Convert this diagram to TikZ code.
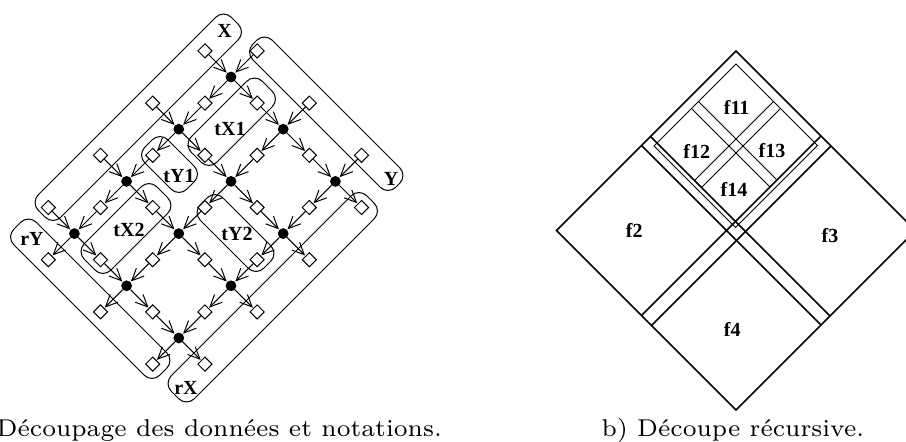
\documentclass[tikz,border=0pt]{standalone}
\usepackage{fontspec}
\newfontfamily\lblfont{Liberation Serif}[Scale=1]
\usetikzlibrary{shapes.geometric,arrows.meta}
\tikzset{
  dia/.style={draw,diamond,fill=white,minimum width=14.5pt,minimum height=14.5pt,inner sep=0pt,line width=1pt,aspect=1},
  dot/.style={circle,fill=black,minimum size=10.8pt,inner sep=0pt},
  conn/.style={line width=1pt,-{Straight Barb[length=12pt,width=11pt,line width=1pt]},shorten >=0.5pt},
  gbox/.style={line width=1pt,rounded corners=11pt},
  lbl/.style={inner sep=0pt,font=\lblfont\bfseries\fontsize{20}{22}\selectfont},
  capt/.style={inner sep=0pt,anchor=base west,scale=3.47,font=\fontsize{7}{9}\selectfont},
  heavy/.style={line width=1.5pt},
  thin line/.style={line width=1pt}
}
\newcommand{\gridxy}[2]{({231+(#1-(#2))*26.1},{77+(#1+(#2))*26.1})}
\newcommand{\sdp}[2]{({((#1)+(#2))/2},{((#1)-(#2))/2})}
\newcommand{\rbox}[4]{\draw[gbox] \sdp{#1}{#3} -- \sdp{#1}{#4} -- \sdp{#2}{#4} -- \sdp{#2}{#3} -- cycle;}
\begin{document}
\begin{tikzpicture}[x=1pt,y=-1pt]
\clip (0,0) rectangle (906,442);
% group boxes
\rbox{233}{278}{-172}{214}
\rbox{297}{583}{193}{232}
\rbox{547}{593}{-220}{171}
\rbox{243}{535}{-231}{-186}
\rbox{328}{379}{39}{181}
\rbox{292}{376}{-18}{28}
\rbox{328}{381}{-175}{-30}
\rbox{405}{532}{-20}{25}
% lattice
\foreach \a in {0,2,4} \foreach \b in {0,2,4,6} \node[dot] (n\a-\b) at \gridxy{\a}{\b} {};
\foreach \a in {-1,1,3,5} \foreach \b in {0,2,4,6} \node[dia] (n\a-\b) at \gridxy{\a}{\b} {};
\foreach \a in {0,2,4} \foreach \b in {-1,1,3,5,7} \node[dia] (n\a-\b) at \gridxy{\a}{\b} {};
\foreach \b in {0,2,4,6} \foreach \a/\c in {-1/0,0/1,1/2,2/3,3/4,4/5}
  \draw[conn] (n\a-\b) -- (n\c-\b);
\foreach \a in {0,2,4} \foreach \b/\c in {-1/0,0/1,1/2,2/3,3/4,4/5,5/6,6/7}
  \draw[conn] (n\a-\b) -- (n\a-\c);
% labels left
\node[lbl] (lX) at (224.5,31) {X};
\node[lbl] (lY) at (391,179) {Y};
\node[lbl] (ltXa) at (230,129) {tX1};
\node[lbl] (ltYa) at (179,176) {tY1};
\node[lbl] (ltXb) at (129,230) {tX2};
\node[lbl] (ltYb) at (237,234) {tY2};
\node[lbl] (lrY) at (32,239) {rY};
\node[lbl] (lrX) at (186,388) {rX};
% right diagram
\draw[heavy] \sdp{787}{326} -- \sdp{787}{685} -- \sdp{1146}{685} -- \sdp{1146}{326} -- cycle;
\draw[heavy] \sdp{787}{496} -- \sdp{1146}{496};
\draw[heavy] \sdp{787}{514} -- \sdp{1146}{514};
\draw[heavy] \sdp{957}{326} -- \sdp{957}{685};
\draw[heavy] \sdp{977}{326} -- \sdp{977}{685};
\draw[thin line] \sdp{800}{508} -- \sdp{800}{672} -- \sdp{963}{672} -- \sdp{963}{508} -- cycle;
\draw[thin line] \sdp{800}{583} -- \sdp{957}{583};
\draw[thin line] \sdp{800}{597} -- \sdp{957}{597};
\draw[thin line] \sdp{875}{514} -- \sdp{875}{672};
\draw[thin line] \sdp{889}{514} -- \sdp{889}{672};
\node[lbl] (lf11) at (736.7,107) {f11};
\node[lbl] (lf12) at (696.7,151) {f12};
\node[lbl] (lf13) at (772,151) {f13};
\node[lbl] (lf14) at (734,189) {f14};
\node[lbl] (lf2) at (634.3,230) {f2};
\node[lbl] (lf3) at (830,236) {f3};
\node[lbl] (lf4) at (732.3,329.5) {f4};
% captions
\node[capt] (capa) at (-4,436) {Découpage des données et notations.};
\node[capt] (capb) at (601,436) {b) Découpe récursive.};
\end{tikzpicture}
\end{document}
